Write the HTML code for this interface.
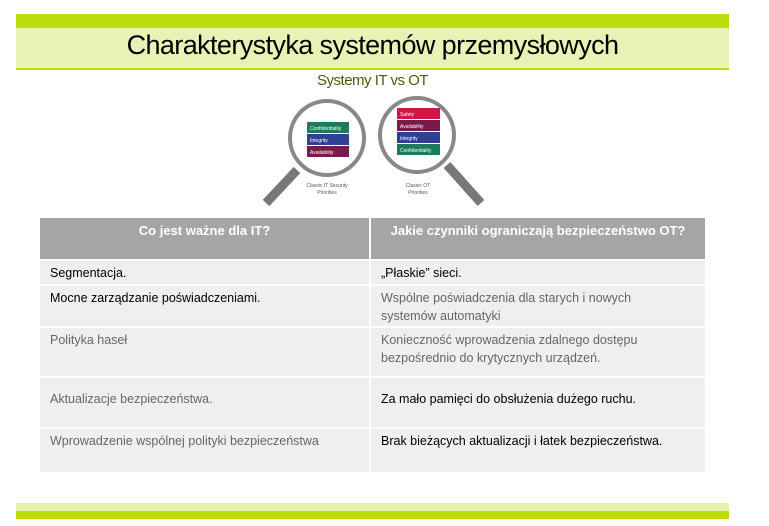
<!DOCTYPE html>
<html><head><meta charset="utf-8"><style>
body{margin:0;width:769px;height:526px;background:#fff;position:relative;overflow:hidden;font-family:"Liberation Sans",sans-serif}
.a{position:absolute}
.c{position:absolute;background:#efefef;font-size:12.5px;box-sizing:border-box;padding:5px 10px;line-height:18px}
.l{left:40px;width:329px}.r{left:371px;width:334px;padding-right:40px}
.g{color:#666}.k{color:#000}
.h{position:absolute;background:#a5a5a5;color:#fff;font-size:13px;font-weight:bold;text-align:center;top:218px;height:41px;padding-top:5px;box-sizing:border-box}
</style></head><body>
<div class="a" style="left:16px;top:14px;width:713px;height:14px;background:#bcdc0c"></div>
<div class="a" style="left:16px;top:28px;width:713px;height:40px;background:#e9f2b4"></div>
<div class="a" style="left:16px;top:68px;width:713px;height:2px;background:#bcdc0c"></div>
<div class="a" style="left:16px;top:30px;width:713px;text-align:center;font-size:27px;letter-spacing:-0.6px;color:#000">Charakterystyka systemów przemysłowych</div>
<div class="a" style="left:16px;top:72px;width:713px;text-align:center;font-size:15px;letter-spacing:-0.5px;color:#4d5a0a">Systemy IT vs OT</div>
<svg class="a" style="left:0;top:0" width="769" height="526">
<g font-family="Liberation Sans" font-size="5" fill="#fff">
<line x1="297" y1="170" x2="266" y2="203" stroke="#777" stroke-width="9"/>
<circle cx="327" cy="138" r="37" fill="#fff" stroke="#888" stroke-width="4"/>
<rect x="307" y="122" width="42" height="11" fill="#1c7b5c"/><text x="310" y="130">Confidentiality</text>
<rect x="307" y="134" width="42" height="11" fill="#2f3f93"/><text x="310" y="142">Integrity</text>
<rect x="307" y="146" width="42" height="11" fill="#7a1a4c"/><text x="310" y="154">Availability</text>
<line x1="447" y1="165" x2="481" y2="203" stroke="#777" stroke-width="9"/>
<circle cx="417" cy="135" r="37" fill="#fff" stroke="#888" stroke-width="4"/>
<rect x="397" y="108" width="43" height="11" fill="#d01445"/><text x="400" y="116">Safety</text>
<rect x="397" y="120" width="43" height="11" fill="#7a1a4c"/><text x="400" y="128">Availability</text>
<rect x="397" y="132" width="43" height="11" fill="#2f3f93"/><text x="400" y="140">Integrity</text>
<rect x="397" y="144" width="43" height="11" fill="#1c7b5c"/><text x="400" y="152">Confidentiality</text>
<g fill="#555" font-size="5" text-anchor="middle"><text x="327" y="187">Classic IT Security</text><text x="327" y="194">Priorities</text>
<text x="418" y="187">Classic OT</text><text x="418" y="194">Priorities</text></g></g>
</svg>
<div>
<div class="h" style="left:40px;width:329px">Co jest ważne dla IT?</div>
<div class="h" style="left:371px;width:334px">Jakie czynniki ograniczają bezpieczeństwo OT?</div>
<div class="c l k" style="top:261px;height:23px;padding-top:3px">Segmentacja.</div>
<div class="c r k" style="top:261px;height:23px;padding-top:3px">„Płaskie” sieci.</div>
<div class="c l k" style="top:286px;height:40px;padding-top:3px">Mocne zarządzanie poświadczeniami.</div>
<div class="c r g" style="top:286px;height:40px;padding-top:3px">Wspólne poświadczenia dla starych i nowych systemów automatyki</div>
<div class="c l g" style="top:328px;height:48px;padding-top:3px">Polityka haseł</div>
<div class="c r g" style="top:328px;height:48px;padding-top:3px">Konieczność wprowadzenia zdalnego dostępu bezpośrednio do krytycznych urządzeń.</div>
<div class="c l g" style="top:378px;height:49px;padding-top:12px">Aktualizacje bezpieczeństwa.</div>
<div class="c r k" style="top:378px;height:49px;padding-top:12px">Za mało pamięci do obsłużenia dużego ruchu.</div>
<div class="c l g" style="top:429px;height:43px;padding-top:3px">Wprowadzenie wspólnej polityki bezpieczeństwa</div>
<div class="c r k" style="top:429px;height:43px;padding-top:3px">Brak bieżących aktualizacji i łatek bezpieczeństwa.</div>
</div>
<div class="a" style="left:16px;top:503px;width:713px;height:8px;background:#e9f2b4"></div>
<div class="a" style="left:16px;top:511px;width:713px;height:8px;background:#bcdc0c"></div>
</body></html>
